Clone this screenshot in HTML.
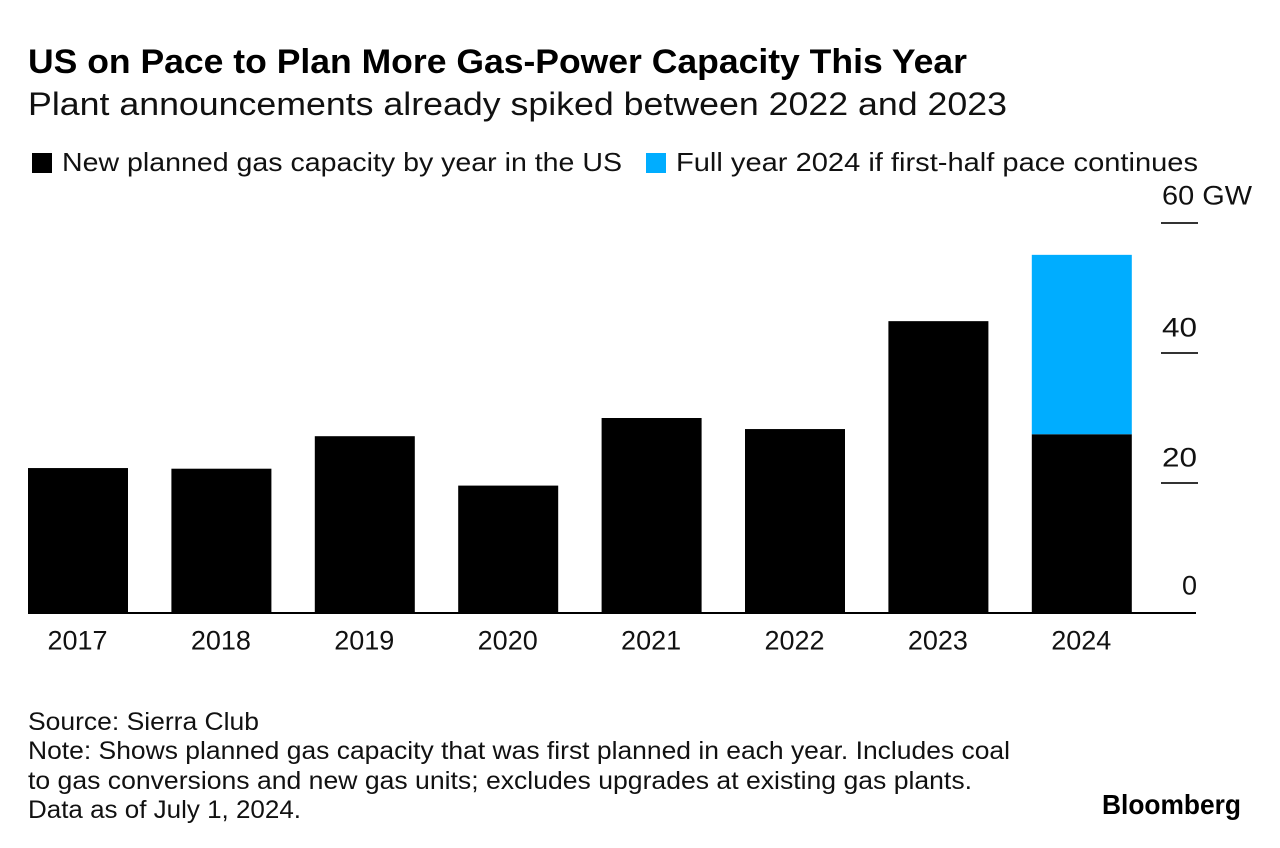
<!DOCTYPE html>
<html lang="en">
<head>
<meta charset="utf-8">
<title>US on Pace to Plan More Gas-Power Capacity This Year</title>
<style>
html,body{margin:0;padding:0;background:#fff;width:1280px;height:848px;overflow:hidden}
svg{display:block}
text{font-family:"Liberation Sans",Arial,sans-serif;fill:#111}
</style>
</head>
<body>
<svg id="chart" width="1280" height="848" viewBox="0 0 1280 848" xmlns="http://www.w3.org/2000/svg">
  <rect x="0" y="0" width="1280" height="848" fill="#fff"/>
  <text x="28" y="73" font-size="34" font-weight="700" style="fill:#000" textLength="939" lengthAdjust="spacingAndGlyphs">US on Pace to Plan More Gas-Power Capacity This Year</text>
  <text x="28" y="115" font-size="32" textLength="979" lengthAdjust="spacingAndGlyphs">Plant announcements already spiked between 2022 and 2023</text>
  <rect x="32" y="153" width="20" height="20" fill="#000"/>
  <text x="62" y="171" font-size="26" textLength="560" lengthAdjust="spacingAndGlyphs">New planned gas capacity by year in the US</text>
  <rect x="646" y="153" width="20" height="20" fill="#00adff"/>
  <text x="676" y="171" font-size="26" textLength="522" lengthAdjust="spacingAndGlyphs">Full year 2024 if first-half pace continues</text>
  <g id="bars"></g>
  <g id="y-axis"></g>
  <g id="x-axis"></g>
  <text x="28" y="730" font-size="25" textLength="231" lengthAdjust="spacingAndGlyphs">Source: Sierra Club</text>
  <text x="28" y="759" font-size="25" textLength="982" lengthAdjust="spacingAndGlyphs">Note: Shows planned gas capacity that was first planned in each year. Includes coal</text>
  <text x="28" y="789" font-size="25" textLength="944" lengthAdjust="spacingAndGlyphs">to gas conversions and new gas units; excludes upgrades at existing gas plants.</text>
  <text x="28" y="818" font-size="25" textLength="273" lengthAdjust="spacingAndGlyphs">Data as of July 1, 2024.</text>
  <text x="1102" y="814" font-size="28" font-weight="700" style="fill:#000" textLength="139" lengthAdjust="spacingAndGlyphs">Bloomberg</text>
</svg>
<script>
const categories = ['2017','2018','2019','2020','2021','2022','2023','2024'];
const plannedValues = [22.3,22.2,27.2,19.6,30,28.3,44.9,27.5];
const projectedExtra = [0,0,0,0,0,0,0,27.6];
const yTicks = [0,20,40,60];
const yTickLabels = ['0','20','40','60 GW'];

const NS = 'http://www.w3.org/2000/svg';
const yZero = 613, yPerUnit = 6.5;
const firstBarLeft = 28, barStep = 143.4, barWidth = 100;
const yScale = function (v) { return yZero - v * yPerUnit; };
const xScale = function (i) { return firstBarLeft + i * barStep; };
const barsGroup = document.getElementById('bars');
const yGroup = document.getElementById('y-axis');
const xGroup = document.getElementById('x-axis');

function make(tag, attrs, parent) {
  const el = document.createElementNS(NS, tag);
  Object.keys(attrs).forEach(function (k) { el.setAttribute(k, attrs[k]); });
  parent.appendChild(el);
  return el;
}

categories.forEach(function (cat, i) {
  const base = plannedValues[i];
  const extra = projectedExtra[i];
  const bar = make('rect', {x: xScale(i), y: yScale(base), width: barWidth, height: yScale(0) - yScale(base), fill: '#000'}, barsGroup);
  
  
  if (extra > 0) {
    const top = make('rect', {x: xScale(i), y: yScale(base + extra), width: barWidth, height: yScale(base) - yScale(base + extra), fill: '#00adff'}, barsGroup);
    
    
  }
  const label = make('text', {x: xScale(i) + barWidth / 2 - 0.5, y: 649.5, 'font-size': 27, 'text-anchor': 'middle'}, xGroup);
  label.textContent = cat;
  
  
});

const baseline = make('rect', {x: 28, y: yZero - 1, width: 1168, height: 2, fill: '#000'}, xGroup);



yTicks.forEach(function (t, i) {
  if (t !== 0) {
    const tick = make('rect', {x: 1161, y: yScale(t) - 1, width: 37, height: 2, fill: '#333'}, yGroup);
    
    
  }
  const isEnd = t === 0 || t === 60;
  const label = make('text', {x: 1197, y: yScale(t) - (isEnd ? 18.5 : 16.5), 'font-size': 27, 'text-anchor': 'end'}, yGroup);
  label.textContent = yTickLabels[i];
  if (t === 60) {
    label.setAttribute('x', 1162);
    label.setAttribute('text-anchor', 'start');
    label.setAttribute('textLength', 90);
    label.setAttribute('lengthAdjust', 'spacingAndGlyphs');
  } else if (t !== 0) {
    label.setAttribute('textLength', 35);
    label.setAttribute('lengthAdjust', 'spacingAndGlyphs');
  }
  
  
});
</script>
</body>
</html>
